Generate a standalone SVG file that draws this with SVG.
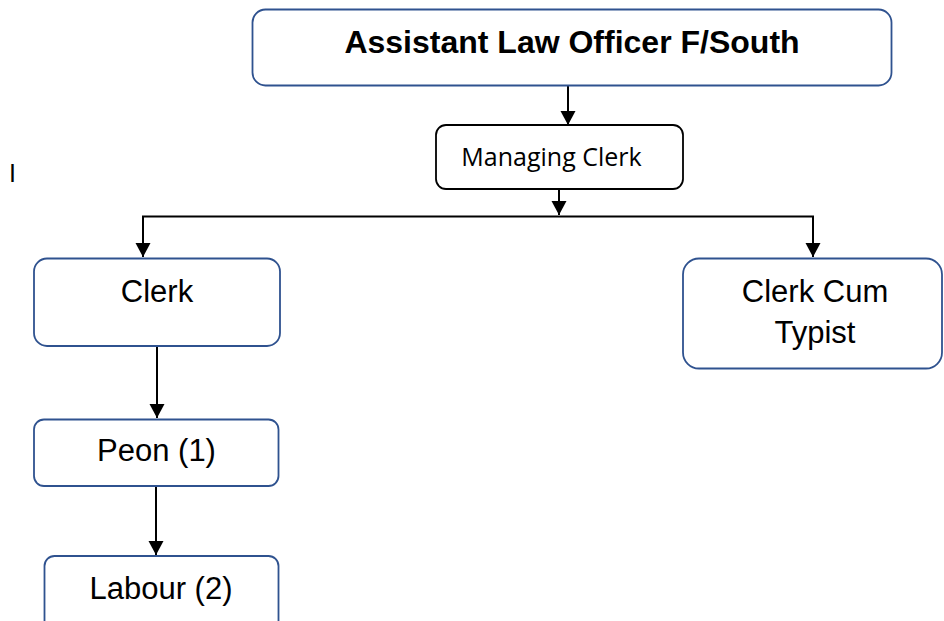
<svg xmlns="http://www.w3.org/2000/svg" width="944" height="621" viewBox="0 0 944 621">
<style>
.bx{fill:#fff;stroke:#2F528F;stroke-width:1.8}
.bk{fill:#fff;stroke:#000;stroke-width:1.8}
.t{font-family:"Liberation Sans",Arial,sans-serif;font-size:31px;fill:#000;text-anchor:middle}
.tb{font-family:"Liberation Sans",Arial,sans-serif;font-size:32px;font-weight:bold;fill:#000;text-anchor:middle}
.tc{font-family:"Open Sans","Noto Sans",sans-serif;font-size:25px;fill:#000;text-anchor:middle}
.c{fill:none;stroke:#000;stroke-width:2}
</style>
<defs>
<marker id="ah" markerUnits="userSpaceOnUse" markerWidth="17" markerHeight="17" viewBox="0 0 17 17" refX="14" refY="8.5" orient="auto">
<path d="M0,1 L14,8.5 L0,16 Z" fill="#000"/>
</marker>
</defs>
<rect width="944" height="621" fill="#fff"/>
<text x="12.5" y="182" style="font-family:'Liberation Sans',Arial,sans-serif;font-size:25px;text-anchor:middle">I</text>
<g id="connectors">
<line class="c" x1="568" y1="86" x2="568" y2="125" marker-end="url(#ah)"/>
<line class="c" x1="559" y1="189" x2="559" y2="215" marker-end="url(#ah)"/>
<line class="c" x1="142" y1="216.5" x2="814" y2="216.5"/>
<line class="c" x1="143" y1="216.5" x2="143" y2="257" marker-end="url(#ah)"/>
<line class="c" x1="813" y1="216.5" x2="813" y2="257" marker-end="url(#ah)"/>
<line class="c" x1="157" y1="346" x2="157" y2="418" marker-end="url(#ah)"/>
<line class="c" x1="156" y1="486" x2="156" y2="555" marker-end="url(#ah)"/>
</g>
<g id="alo">
<rect class="bx" x="252.5" y="9.5" width="639" height="76" rx="13"/>
<text class="tb" x="572" y="53">Assistant Law Officer F/South</text>
</g>
<g id="managing-clerk">
<rect class="bk" x="436" y="125" width="247" height="64" rx="10"/>
<text class="tc" x="551.5" y="166">Managing Clerk</text>
</g>
<g id="clerk">
<rect class="bx" x="34" y="258.5" width="246" height="87.5" rx="13"/>
<text class="t" x="157" y="302">Clerk</text>
</g>
<g id="clerk-cum-typist">
<rect class="bx" x="683" y="258.5" width="259" height="110" rx="16"/>
<text class="t" x="815" y="302">Clerk Cum</text>
<text class="t" x="815" y="343">Typist</text>
</g>
<g id="peon">
<rect class="bx" x="34" y="419.5" width="244.5" height="66.5" rx="10"/>
<text class="t" x="156.5" y="461">Peon (1)</text>
</g>
<g id="labour">
<rect class="bx" x="44.5" y="556" width="234" height="80" rx="10"/>
<text class="t" x="161" y="599">Labour (2)</text>
</g>
</svg>
